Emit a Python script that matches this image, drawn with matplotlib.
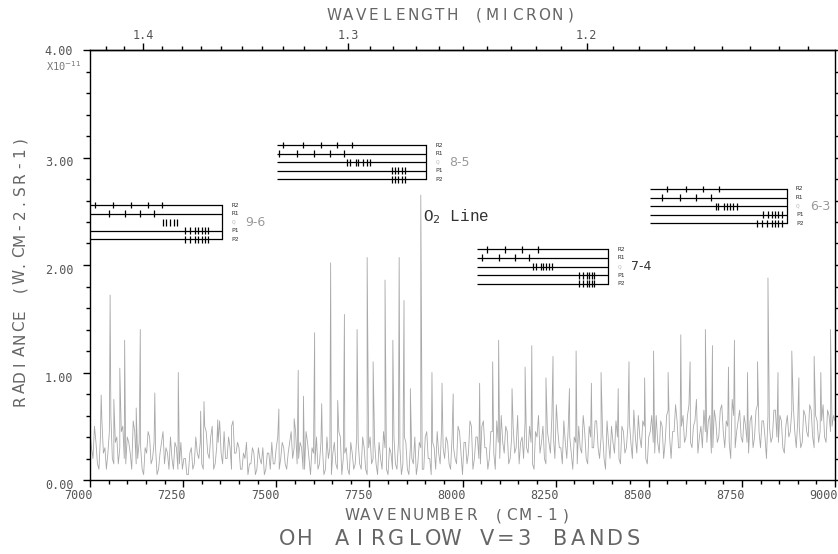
import numpy as np
import matplotlib.pyplot as plt
from matplotlib.ticker import FixedLocator, MultipleLocator
from matplotlib.transforms import ScaledTranslation

# spectrum, radiance in units of 1e-11 W cm-2 sr-1
# background sampled every 4 cm-1: even points (7000, 7008, ...) and odd points (7004, 7012, ...)
base_wn = np.arange(7000, 9001, 8)
base_val = [
    0.45, 0.20, 0.35, 0.10, 0.55, 0.30, 0.25, 0.60, 0.15, 0.40,
    0.30, 0.50, 0.15, 0.35, 0.10, 0.45, 0.20, 0.30, 0.05, 0.25,
    0.40, 0.20, 0.30, 0.10, 0.35, 0.15, 0.25, 0.40, 0.10, 0.30,
    0.15, 0.10, 0.20, 0.05, 0.30, 0.15, 0.25, 0.35, 0.10, 0.45,
    0.20, 0.50, 0.15, 0.35, 0.25, 0.45, 0.20, 0.30, 0.55, 0.25,
    0.30, 0.10, 0.20, 0.05, 0.15, 0.25, 0.10, 0.20, 0.30, 0.10,
    0.25, 0.35, 0.15, 0.40, 0.20, 0.30, 0.10, 0.35, 0.20, 0.45,
    0.20, 0.30, 0.10, 0.35, 0.05, 0.25, 0.40, 0.15, 0.30, 0.10,
    0.20, 0.05, 0.35, 0.10, 0.40, 0.20, 0.30, 0.05, 0.25, 0.15,
    0.35, 0.10, 0.30, 0.05, 0.40, 0.20, 0.15, 0.35, 0.10, 0.30,
    0.05, 0.25, 0.40, 0.10, 0.30, 0.15, 0.35, 0.05, 0.20, 0.40,
    0.15, 0.30, 0.10, 0.45, 0.20, 0.35, 0.10, 0.25, 0.50, 0.20,
    0.35, 0.10, 0.30, 0.15, 0.45, 0.05, 0.35, 0.25, 0.50, 0.20,
    0.40, 0.15, 0.55, 0.30, 0.20, 0.45, 0.10, 0.35, 0.60, 0.25,
    0.45, 0.20, 0.50, 0.30, 0.15, 0.40, 0.55, 0.25, 0.35, 0.10,
    0.40, 0.25, 0.50, 0.15, 0.35, 0.60, 0.20, 0.45, 0.30, 0.55,
    0.20, 0.40, 0.10, 0.35, 0.50, 0.25, 0.45, 0.15, 0.40, 0.30,
    0.55, 0.20, 0.45, 0.10, 0.35, 0.50, 0.25, 0.40, 0.15, 0.45,
    0.30, 0.55, 0.20, 0.40, 0.60, 0.30, 0.50, 0.15, 0.45, 0.35,
    0.60, 0.25, 0.50, 0.35, 0.65, 0.20, 0.45, 0.55, 0.30, 0.60,
    0.40, 0.70, 0.30, 0.55, 0.25, 0.50, 0.65, 0.35, 0.60, 0.30,
    0.55, 0.40, 0.70, 0.30, 0.50, 0.20, 0.60, 0.45, 0.65, 0.35,
    0.50, 0.25, 0.60, 0.40, 0.70, 0.30, 0.55, 0.20, 0.50, 0.40,
    0.65, 0.35, 0.55, 0.25, 0.60, 0.45, 0.70, 0.30, 0.50, 0.35,
    0.60, 0.40, 0.65, 0.30, 0.55, 0.45, 0.70, 0.35, 0.60, 0.50,
    0.55,
]
mid_wn = np.arange(7004, 9000, 8)
mid_val = [
    0.30, 0.50, 0.15, 0.40, 0.25, 0.10, 0.45, 0.20, 0.35, 0.15,
    0.45, 0.20, 0.40, 0.25, 0.55, 0.15, 0.35, 0.10, 0.30, 0.45,
    0.15, 0.35, 0.05, 0.25, 0.45, 0.30, 0.10, 0.20, 0.35, 0.10,
    0.35, 0.20, 0.05, 0.25, 0.10, 0.40, 0.20, 0.15, 0.50, 0.25,
    0.40, 0.10, 0.30, 0.55, 0.15, 0.20, 0.40, 0.10, 0.25, 0.35,
    0.10, 0.25, 0.35, 0.15, 0.30, 0.05, 0.30, 0.15, 0.05, 0.25,
    0.10, 0.15, 0.30, 0.10, 0.35, 0.15, 0.25, 0.45, 0.30, 0.15,
    0.35, 0.10, 0.45, 0.20, 0.30, 0.15, 0.10, 0.35, 0.05, 0.40,
    0.30, 0.25, 0.15, 0.45, 0.05, 0.25, 0.10, 0.35, 0.10, 0.40,
    0.15, 0.40, 0.10, 0.30, 0.15, 0.35, 0.05, 0.20, 0.45, 0.10,
    0.30, 0.10, 0.15, 0.35, 0.05, 0.40, 0.10, 0.30, 0.15, 0.05,
    0.35, 0.10, 0.40, 0.20, 0.05, 0.30, 0.45, 0.15, 0.30, 0.40,
    0.15, 0.40, 0.20, 0.50, 0.25, 0.35, 0.15, 0.55, 0.10, 0.40,
    0.20, 0.50, 0.30, 0.10, 0.45, 0.25, 0.55, 0.20, 0.35, 0.50,
    0.15, 0.40, 0.25, 0.60, 0.35, 0.20, 0.30, 0.50, 0.15, 0.45,
    0.60, 0.35, 0.20, 0.45, 0.25, 0.40, 0.70, 0.30, 0.15, 0.35,
    0.50, 0.25, 0.40, 0.15, 0.30, 0.60, 0.20, 0.50, 0.30, 0.55,
    0.30, 0.40, 0.20, 0.55, 0.20, 0.35, 0.55, 0.20, 0.50, 0.25,
    0.50, 0.35, 0.65, 0.25, 0.40, 0.55, 0.20, 0.40, 0.60, 0.25,
    0.35, 0.55, 0.20, 0.60, 0.40, 0.45, 0.70, 0.30, 0.50, 0.35,
    0.60, 0.35, 0.50, 0.75, 0.40, 0.30, 0.45, 0.55, 0.25, 0.65,
    0.35, 0.65, 0.45, 0.55, 0.35, 0.75, 0.30, 0.55, 0.40, 0.60,
    0.35, 0.55, 0.30, 0.65, 0.45, 0.55, 0.40, 0.60, 0.35, 0.65,
    0.40, 0.60, 0.30, 0.50, 0.40, 0.65, 0.45, 0.55, 0.30, 0.65,
    0.45, 0.70, 0.40, 0.60, 0.35, 0.55, 0.40, 0.65, 0.45, 0.60,
]

# emission lines sticking out of the background
peak_wn = [7030, 7054, 7064, 7080, 7093, 7124, 7135, 7174, 7237, 7297,
           7306, 7343, 7380, 7507, 7548, 7559, 7573, 7603, 7622, 7646,
           7665, 7683, 7717, 7744, 7760, 7792, 7813, 7830, 7843, 7860,
           7888, 7918, 7945, 7975, 8046, 8081, 8097, 8133, 8168, 8186,
           8224, 8243, 8287, 8305, 8346, 8372, 8418, 8447, 8489, 8513,
           8552, 8586, 8611, 8652, 8671, 8714, 8730, 8765, 8792, 8820,
           8847, 8884, 8903, 8944, 8962, 8988]
peak_val = [0.79, 1.72, 0.75, 1.04, 1.30, 0.67, 1.40, 0.81, 1.00, 0.64,
            0.73, 0.56, 0.50, 0.66, 0.57, 1.02, 0.78, 1.37, 0.71, 2.02,
            0.74, 1.54, 1.40, 2.07, 1.10, 1.86, 1.30, 2.07, 1.67, 0.85,
            2.65, 1.00, 0.90, 0.80, 0.90, 1.10, 1.30, 0.85, 1.05, 1.25,
            0.95, 1.15, 0.85, 1.20, 0.90, 1.00, 0.85, 1.10, 0.95, 1.20,
            1.00, 1.35, 1.10, 1.40, 1.25, 1.05, 1.30, 1.00, 1.10, 1.88,
            1.00, 1.20, 0.95, 1.15, 1.00, 1.40]

# OH band line positions (cm-1)
band_names = ['9-6', '8-5', '7-4', '6-3']
r2_lines = [[7013, 7063, 7109, 7155, 7192], [7519, 7571, 7619, 7662, 7703],
            [8065, 8114, 8159, 8202], [8550, 8600, 8646, 8689]]
r1_lines = [[7052, 7094, 7134, 7172], [7507, 7557, 7602, 7644, 7682],
            [8052, 8099, 8141, 8179], [8535, 8584, 8627, 8666]]
q_lines = [[7197, 7204, 7215, 7225, 7234],
           [7691, 7698, 7714, 7720, 7734, 7743, 7752],
           [8190, 8197, 8210, 8215, 8224, 8233, 8239],
           [8681, 8687, 8702, 8709, 8718, 8727, 8736]]
p1_lines = [[7255, 7268, 7282, 7291, 7300, 7309, 7318],
            [7810, 7819, 7828, 7837, 7846],
            [8314, 8324, 8333, 8340, 8347, 8353],
            [8808, 8821, 8830, 8839, 8848, 8857]]
p2_lines = [[7255, 7268, 7282, 7291, 7300, 7309, 7318],
            [7810, 7819, 7828, 7837, 7846],
            [8314, 8324, 8333, 8340, 8347, 8353],
            [8790, 8803, 8817, 8830, 8839, 8848, 8857]]
branch_names = ['R2', 'R1', 'Q', 'P1', 'P2']

# where each band diagram sits
diag_left = [7000, 7503, 8039, 8503]
diag_right = [7354, 7902, 8391, 8870]
diag_top = [2.558, 3.116, 2.146, 2.707]
diag_qline = [False, True, True, True]
band_colors = ['#999999', '#999999', '#333333', '#999999']
row_step = 0.08

W, H = 838, 554
fig = plt.figure(figsize=(W / 100, H / 100), dpi=100)
ax = fig.add_axes([90 / W, 74 / H, 745 / W, 430 / H])

wn = np.concatenate([base_wn, mid_wn, peak_wn])
val = np.concatenate([base_val, mid_val, peak_val])
order = np.argsort(wn, kind='stable')
ax.plot(wn[order], val[order], color='#a8a8a8', lw=0.6)

# band diagrams
for b in range(4):
    rows = [r2_lines[b], r1_lines[b], q_lines[b], p1_lines[b], p2_lines[b]]
    x0, x1 = diag_left[b], diag_right[b]
    for k, lines in enumerate(rows):
        yr = diag_top[b] - k * row_step
        if k != 2 or diag_qline[b]:
            ax.plot([x0, x1], [yr, yr], color='black', lw=0.9, solid_capstyle='butt')
        ax.vlines(lines, yr - 0.032, yr + 0.032, color='black', lw=0.9)
        ax.text(x1 + 25, yr, branch_names[k], fontsize=4.5, family='DejaVu Sans Mono',
                color='#bbbbbb' if k == 2 else '#333333', va='center', ha='left')
    ax.plot([x1, x1], [diag_top[b], diag_top[b] - 4 * row_step], color='black', lw=0.9)
    ax.text(x1 + 62, diag_top[b] - 2 * row_step, band_names[b], fontsize=9,
            family='DejaVu Sans', color=band_colors[b], va='center', ha='left')

ax.text(7893, 2.45, 'O$_2$ Line', fontsize=11.5, family='Liberation Mono',
        color='#333333', va='center', ha='left')

ax.set_xlim(7000, 9000)
ax.set_ylim(0, 4)
for s in ax.spines.values():
    s.set_linewidth(1.0)

ax.set_xticks(range(7000, 9001, 250))
ax.set_xticklabels([str(v) for v in range(7000, 9001, 250)])
ax.xaxis.set_minor_locator(MultipleLocator(50))
ax.set_yticks([0, 1, 2, 3, 4])
ax.set_yticklabels(['0.00', '1.00', '2.00', '3.00', '4.00'])
ax.yaxis.set_minor_locator(MultipleLocator(0.2))
ax.tick_params(which='both', direction='out', right=True, width=1.0,
               labelsize=8.5, labelcolor='#555555')
ax.tick_params(which='major', length=5)
ax.tick_params(which='minor', length=3)
ax.tick_params(axis='x', pad=1.5)
ax.tick_params(axis='y', pad=7)
for lab in ax.get_xticklabels():
    lab.set_family('DejaVu Sans Mono')
    lab.set_ha('right')
    lab.set_transform(lab.get_transform() + ScaledTranslation(3 / 100, 0, fig.dpi_scale_trans))
for i, lab in enumerate(ax.get_yticklabels()):
    lab.set_family('DejaVu Sans Mono')
    shift = 0 if i == 4 else -4
    lab.set_transform(lab.get_transform() + ScaledTranslation(0, shift / 100, fig.dpi_scale_trans))

sec = ax.secondary_xaxis('top', functions=(lambda w: 1e4 / np.maximum(w, 1e-9),
                                           lambda l: 1e4 / np.maximum(l, 1e-9)))
sec.set_xticks([1.4, 1.3, 1.2])
sec.set_xticklabels(['1.4', '1.3', '1.2'])
sec.xaxis.set_minor_locator(FixedLocator([1.12 + 0.01 * i for i in range(31)]))
sec.tick_params(which='both', direction='out', width=1.0, labelsize=8.5,
                labelcolor='#555555', pad=1)
sec.tick_params(which='major', length=5)
sec.tick_params(which='minor', length=3)
sec.spines['top'].set_linewidth(1.0)
for lab in sec.get_xticklabels():
    lab.set_family('DejaVu Sans Mono')

fig.text(82 / W, 1 - 66 / H, 'X10$^{-11}$', fontsize=7.5, family='DejaVu Sans Mono',
         color='#777777', ha='right', va='center')


def spaced(text, x0, y0, pitch, size, vertical=False, color='#666666'):
    # stroke-font look: one character per fixed cell
    for i, ch in enumerate(text):
        if vertical:
            fig.text(x0 / W, 1 - (y0 - i * pitch) / H, ch, rotation=90, fontsize=size,
                     color=color, ha='center', va='center', family='DejaVu Sans')
        else:
            fig.text((x0 + i * pitch) / W, 1 - y0 / H, ch, fontsize=size,
                     color=color, ha='center', va='center', family='DejaVu Sans')


spaced('WAVELENGTH (MICRON)', 334.5, 15, 13.1, 11)
spaced('WAVENUMBER (CM-1)', 351.7, 516, 13.35, 11)
spaced('OH AIRGLOW V=3 BANDS', 287, 539, 18.2, 15)
spaced('RADIANCE (W.CM-2.SR-1)', 20, 400.5, 12.4, 11, vertical=True)

fig.savefig('out.png', dpi=100)
